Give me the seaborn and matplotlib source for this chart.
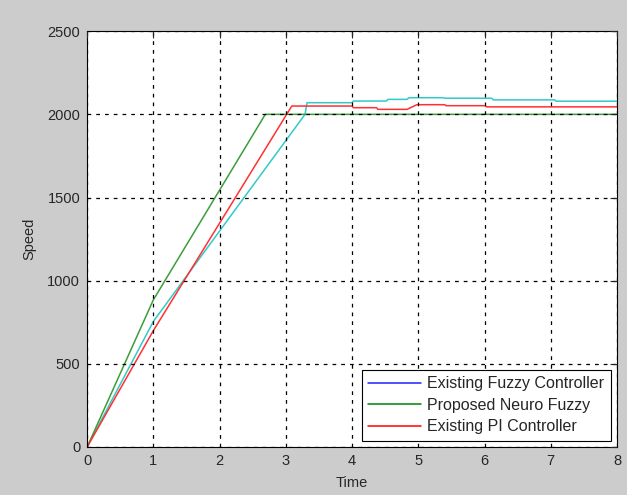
import pandas as pd
import matplotlib
matplotlib.use("Agg")
import matplotlib.pyplot as plt
import seaborn as sns
from matplotlib.lines import Line2D

# speed response
time_fuzzy = [0, 1, 3.29, 3.32, 4.0, 4.02, 4.52, 4.54, 4.83, 4.86, 5.38, 5.4, 6.11, 6.13, 7.06, 7.08, 8]
speed_fuzzy = [0, 755, 2000, 2070, 2070, 2080, 2080, 2090, 2090, 2100, 2100, 2097, 2097, 2087, 2087, 2079, 2079]

time_neuro = [0, 1, 2.69, 8]
speed_neuro = [0, 885, 2000, 2000]

time_pi = [0, 1, 3.09, 4.0, 4.02, 4.37, 4.39, 4.83, 4.98, 5.4, 5.42, 6.01, 6.03, 8]
speed_pi = [0, 700, 2050, 2050, 2040, 2040, 2030, 2030, 2058, 2058, 2052, 2052, 2045, 2045]

names = ["Existing Fuzzy Controller", "Proposed Neuro Fuzzy", "Existing PI Controller"]
line_colors = ["#33c9c9", "#3a9e3a", "#ff3030"]
legend_colors = ["#2020ff", "#008000", "#ff0000"]

df = pd.concat([
    pd.DataFrame({"Time": time_fuzzy, "Speed": speed_fuzzy, "ctrl": names[0]}),
    pd.DataFrame({"Time": time_neuro, "Speed": speed_neuro, "ctrl": names[1]}),
    pd.DataFrame({"Time": time_pi, "Speed": speed_pi, "ctrl": names[2]}),
])

sns.set_style("white")
plt.rcParams["font.family"] = ["Liberation Sans", "DejaVu Sans"]

fig = plt.figure(figsize=(6.27, 4.95), dpi=100, facecolor="#cccccc")
ax = fig.add_axes([0.139, 0.097, 0.845, 0.84])
sns.lineplot(data=df, x="Time", y="Speed", hue="ctrl", hue_order=names,
             palette=line_colors, sort=False, estimator=None, linewidth=1.1,
             legend=False, ax=ax)

ax.set_xlim(0, 8)
ax.set_ylim(0, 2500)
ax.set_xticks(range(0, 9))
ax.set_yticks(range(0, 2501, 500))
ax.set_axisbelow(False)
ax.grid(True, color="black", linestyle=(0, (3, 4)), linewidth=0.9)
ax.tick_params(direction="in", length=5, top=True, right=True, labelsize=10.5, pad=5)
for s in ax.spines.values():
    s.set_color("black")
    s.set_linewidth(0.8)
ax.set_xlabel("Time", fontsize=10.5, labelpad=6)
ax.set_ylabel("Speed", fontsize=10.5, labelpad=8)

handles = [Line2D([], [], color=c, linewidth=1.1) for c in legend_colors]
leg = ax.legend(handles, names, loc="lower right", fontsize=11.5, frameon=True,
                fancybox=False, edgecolor="black", framealpha=1,
                borderaxespad=0.4, handlelength=3.3, handletextpad=0.4,
                labelspacing=0.4)
leg.get_frame().set_linewidth(0.8)

fig.savefig("out.png", dpi=100, facecolor=fig.get_facecolor())
